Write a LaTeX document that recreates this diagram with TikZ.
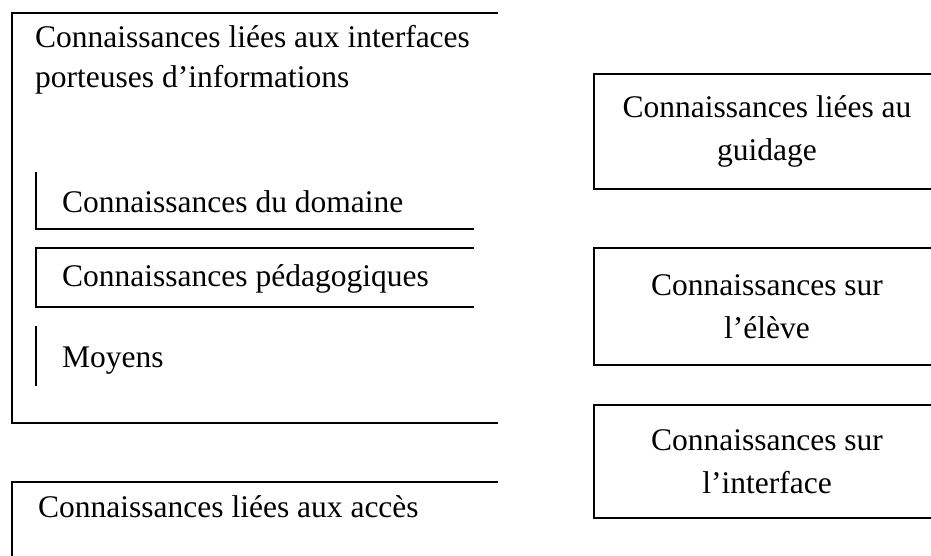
\documentclass[tikz,border=0pt]{standalone}
\usepackage{fontspec}
\setmainfont{Liberation Serif}
\usepackage{tikz}
\tikzstyle{knowbox} = [rectangle, 
minimum width=346pt, 
minimum height=115pt,
text centered, 
align=center,
inner sep=0pt,
draw=black, 
line width=2pt]
\tikzstyle{lefttext} = [anchor=base west, inner sep=0pt]
\tikzstyle{frame} = [line width=2pt, line cap=rect]

\begin{document}
\begin{tikzpicture}[x=1pt, y=-1pt, font=\fontsize{31.5}{43}\selectfont]
        \useasboundingbox (0,0) rectangle (931,556);
        \clip (0,0) rectangle (931,556);
        % left column
        \draw [frame] (497,13) -- (12,13) -- (12,423) -- (497,423);
        \node (inter) [lefttext, anchor=north west, align=left, font=\fontsize{31.5}{40}\selectfont] at (35,25) {Connaissances liées aux interfaces\\porteuses d'informations};
        \draw [frame] (36,173) -- (36,229) -- (473,229);
        \node (dom) [lefttext] at (62,212) {Connaissances du domaine};
        \draw [frame] (473,248) -- (36,248) -- (36,307) -- (473,307);
        \node (peda) [lefttext] at (62,286) {Connaissances pédagogiques};
        \draw [frame] (36,327) -- (36,385);
        \node (moy) [lefttext] at (62,367) {Moyens};
        \draw [frame] (497,482) -- (12,482) -- (12,570);
        \node (acces) [lefttext] at (38,517) {Connaissances liées aux accès};
        % right column
        \node (guid) [knowbox] at (767,131.5) {Connaissances liées au\\guidage};
        \node (eleve) [knowbox, minimum height=117pt] at (767,306.5) {Connaissances sur\\l'élève};
        \node (iface) [knowbox, minimum height=113pt] at (767,461.5) {Connaissances sur\\l'interface};
    \end{tikzpicture}
\end{document}
